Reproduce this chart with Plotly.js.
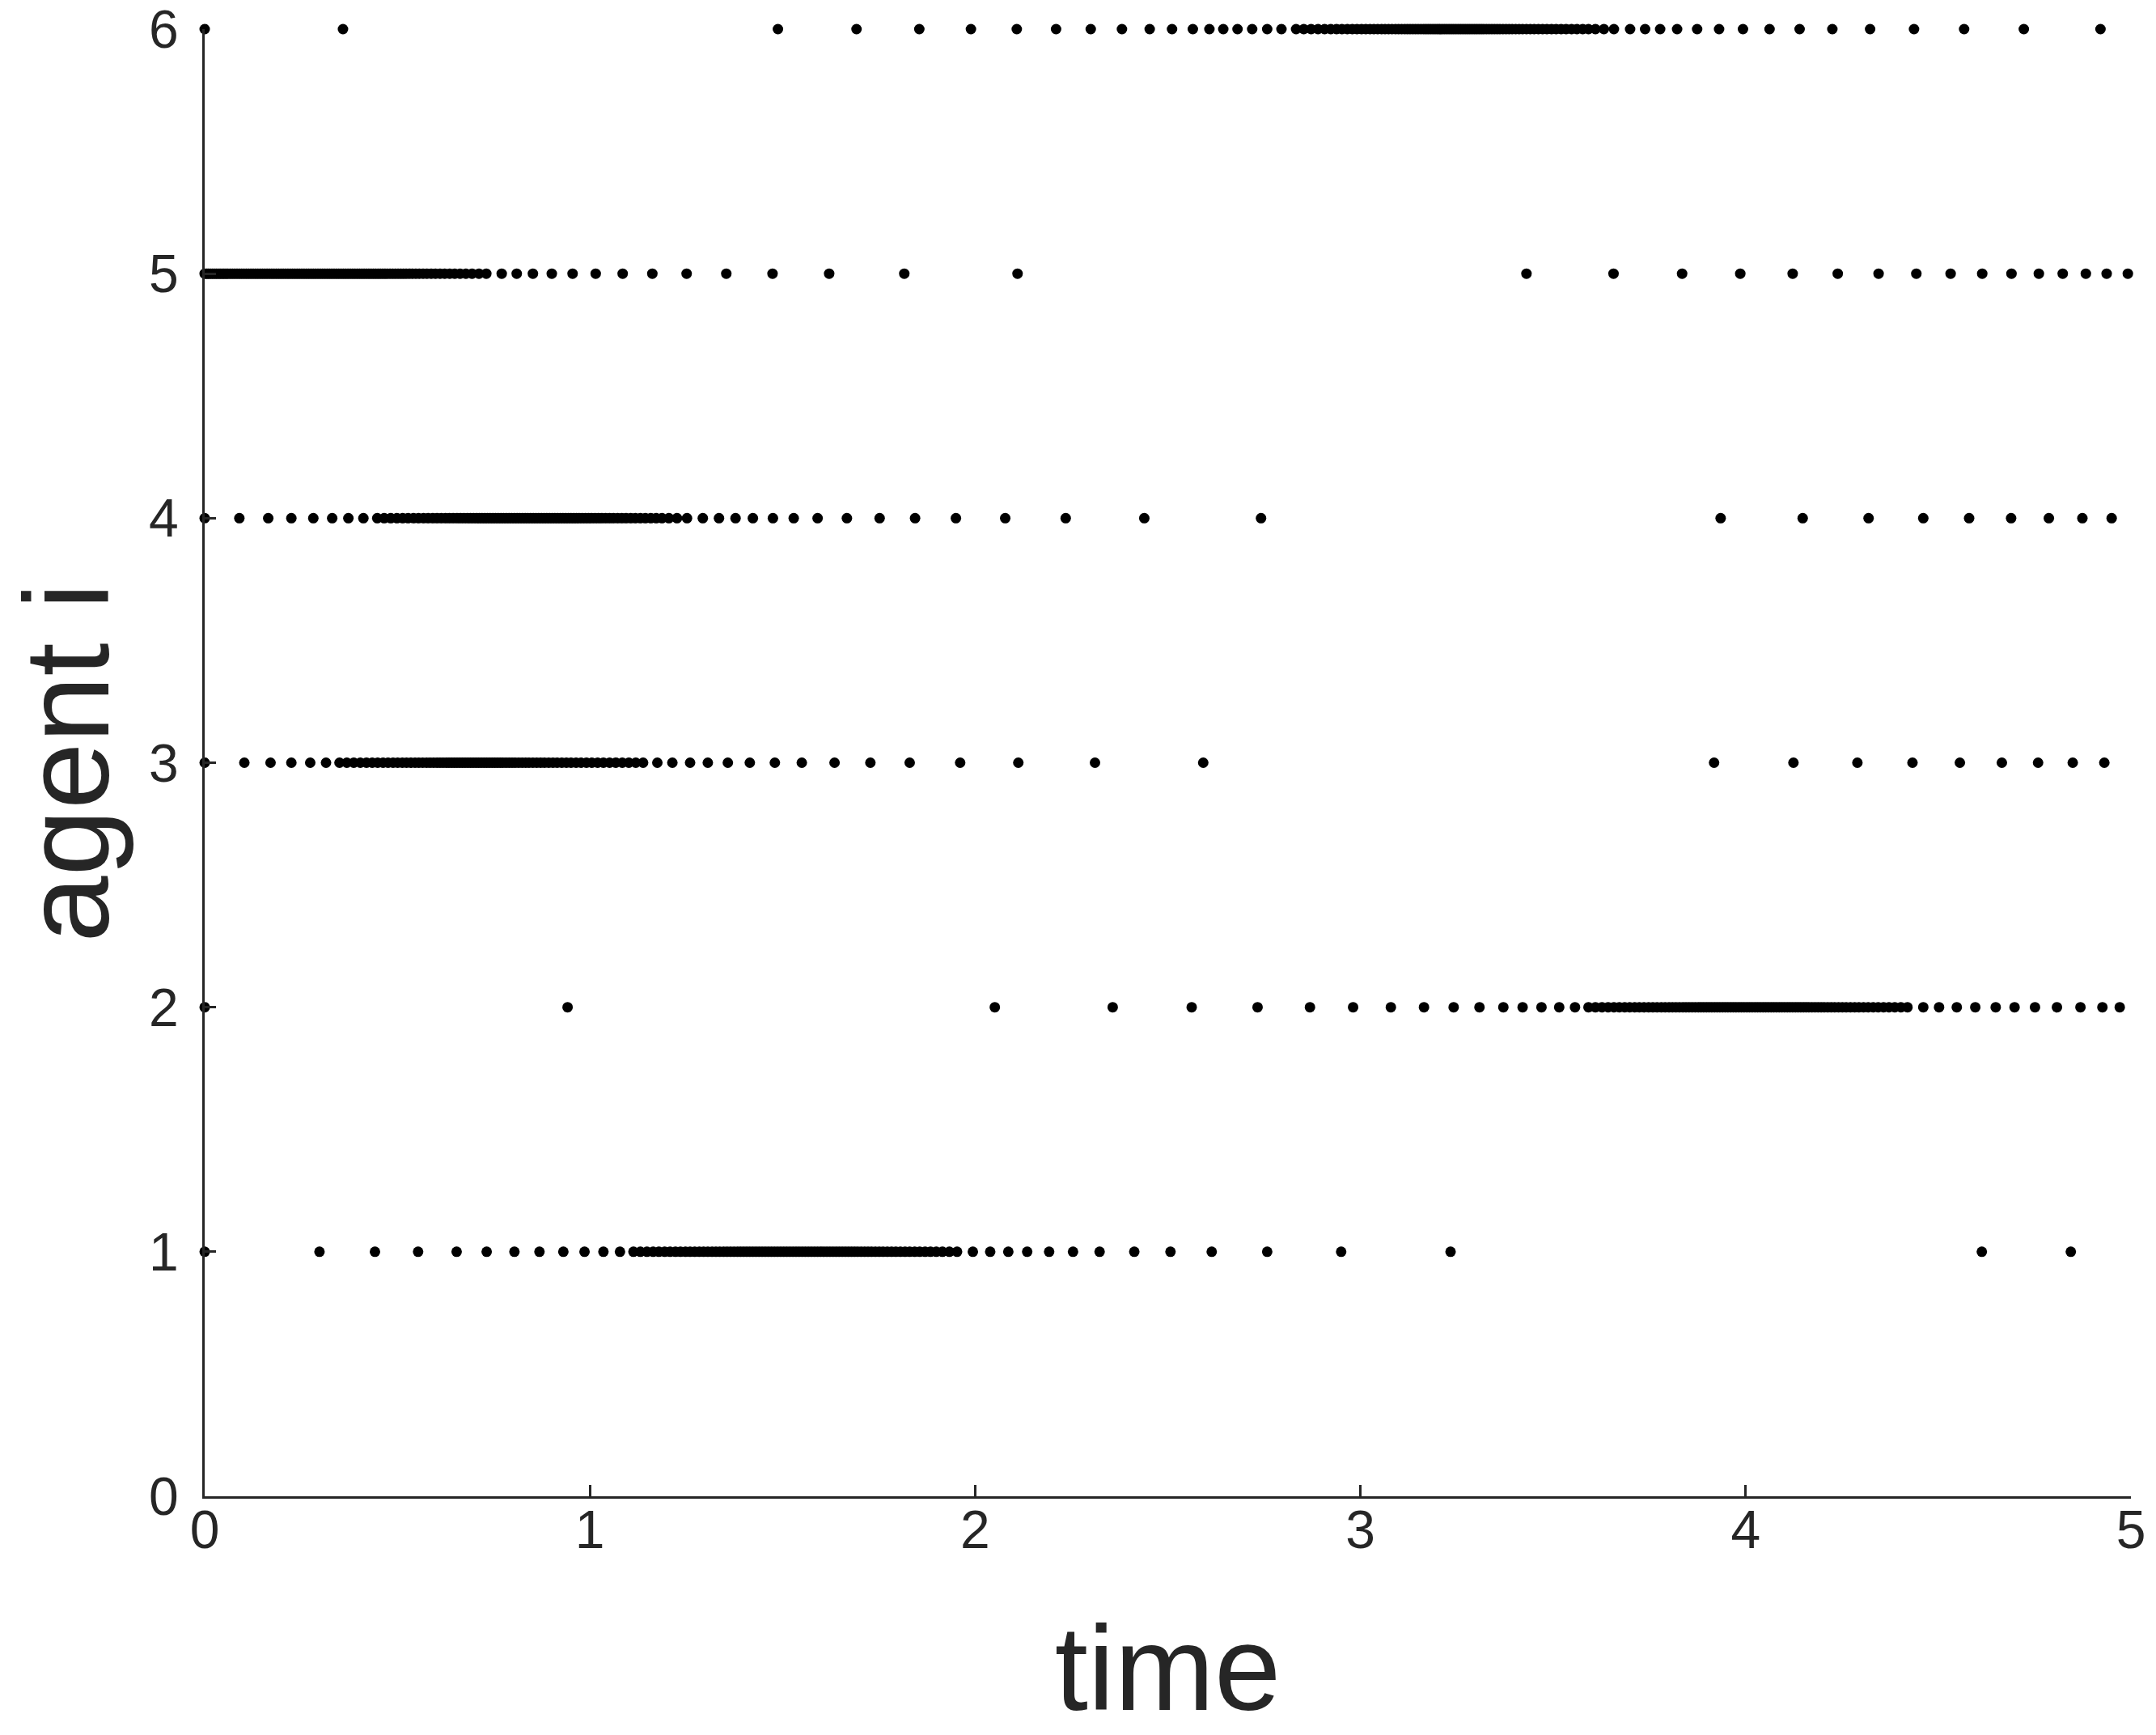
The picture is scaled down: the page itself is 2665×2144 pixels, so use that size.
<!DOCTYPE html>
<html>
<head>
<meta charset="utf-8">
<script src="https://cdn.plot.ly/plotly-3.0.1.min.js"></script>
<style>
html,body{margin:0;padding:0;background:#fff;}
#chart{width:2665px;height:2144px;}
</style>
</head>
<body>
<div id="chart"></div>
<script>
// Event times for each agent
var agent1Times = [0, 0.298, 0.442, 0.554, 0.654, 0.732, 0.804, 0.869, 0.931, 0.986, 1.035, 1.078, 1.113,
  1.131, 1.148, 1.164, 1.179, 1.194, 1.208, 1.222, 1.235, 1.248, 1.260, 1.272, 1.284, 1.295, 1.306, 1.317, 1.327,
  1.337, 1.347, 1.356, 1.365, 1.374, 1.383, 1.391, 1.399, 1.407, 1.415, 1.423, 1.431, 1.439, 1.447, 1.455, 1.463,
  1.471, 1.479, 1.487, 1.495, 1.503, 1.511, 1.519, 1.527, 1.535, 1.543, 1.551, 1.559, 1.567, 1.575, 1.583, 1.591,
  1.599, 1.607, 1.615, 1.623, 1.631, 1.639, 1.647, 1.655, 1.663, 1.671, 1.679, 1.687, 1.695, 1.704, 1.713, 1.722,
  1.731, 1.741, 1.751, 1.761, 1.772, 1.783, 1.794, 1.806, 1.818, 1.830, 1.843, 1.856, 1.870, 1.884, 1.899, 1.915,
  1.933, 1.953, 1.994, 2.039, 2.086, 2.135, 2.192, 2.254, 2.323, 2.413, 2.507, 2.614, 2.758, 2.950, 3.234,
  4.613, 4.844];

var agent2Times = [0, 0.942, 2.051, 2.357, 2.562, 2.733, 2.869, 2.981, 3.079, 3.165, 3.242, 3.309, 3.371, 3.421,
  3.470, 3.516, 3.557, 3.592, 3.610, 3.627, 3.643, 3.658, 3.672, 3.686, 3.699, 3.712, 3.724, 3.736, 3.748, 3.759,
  3.770, 3.781, 3.791, 3.801, 3.810, 3.819, 3.828, 3.837, 3.845, 3.853, 3.861, 3.869, 3.877, 3.884, 3.891, 3.898,
  3.905, 3.912, 3.919, 3.926, 3.933, 3.940, 3.947, 3.954, 3.961, 3.968, 3.975, 3.982, 3.989, 3.996, 4.003, 4.010,
  4.017, 4.024, 4.031, 4.038, 4.045, 4.052, 4.059, 4.066, 4.073, 4.080, 4.087, 4.094, 4.101, 4.108, 4.115, 4.122,
  4.129, 4.136, 4.143, 4.150, 4.157, 4.164, 4.172, 4.180, 4.188, 4.196, 4.204, 4.213, 4.222, 4.231, 4.241, 4.251,
  4.261, 4.272, 4.283, 4.294, 4.306, 4.318, 4.331, 4.344, 4.358, 4.372, 4.387, 4.403, 4.420, 4.461, 4.502, 4.548,
  4.596, 4.649, 4.698, 4.751, 4.808, 4.869, 4.926, 4.971];

var agent3Times = [0, 0.103, 0.171, 0.225, 0.274, 0.315, 0.350, 0.369, 0.387, 0.404, 0.420, 0.435, 0.449, 0.463,
  0.476, 0.489, 0.501, 0.513, 0.524, 0.535, 0.546, 0.556, 0.566, 0.576, 0.585, 0.594, 0.603, 0.611, 0.619, 0.627,
  0.634, 0.641, 0.648, 0.655, 0.662, 0.669, 0.676, 0.683, 0.690, 0.697, 0.704, 0.711, 0.718, 0.725, 0.732, 0.739,
  0.746, 0.753, 0.760, 0.767, 0.774, 0.782, 0.790, 0.798, 0.806, 0.815, 0.824, 0.833, 0.842, 0.852, 0.862, 0.872,
  0.882, 0.893, 0.904, 0.915, 0.927, 0.939, 0.951, 0.964, 0.977, 0.991, 1.005, 1.020, 1.035, 1.051, 1.067, 1.084,
  1.101, 1.119, 1.138, 1.175, 1.214, 1.260, 1.306, 1.358, 1.415, 1.480, 1.550, 1.635, 1.728, 1.830, 1.961, 2.112,
  2.311, 2.592, 3.918, 4.124, 4.290, 4.433, 4.556, 4.665, 4.759, 4.849, 4.931];

var agent4Times = [0, 0.090, 0.165, 0.225, 0.282, 0.331, 0.373, 0.412, 0.448, 0.466, 0.483, 0.499, 0.514, 0.528,
  0.542, 0.555, 0.568, 0.580, 0.592, 0.603, 0.614, 0.625, 0.635, 0.645, 0.655, 0.664, 0.673, 0.682, 0.690, 0.698,
  0.706, 0.713, 0.720, 0.727, 0.734, 0.741, 0.748, 0.755, 0.762, 0.769, 0.776, 0.783, 0.790, 0.797, 0.804, 0.811,
  0.818, 0.825, 0.832, 0.839, 0.846, 0.853, 0.860, 0.867, 0.874, 0.881, 0.888, 0.895, 0.902, 0.909, 0.916, 0.923,
  0.930, 0.937, 0.944, 0.951, 0.958, 0.965, 0.972, 0.980, 0.988, 0.996, 1.004, 1.013, 1.022, 1.031, 1.041, 1.051,
  1.061, 1.072, 1.083, 1.094, 1.106, 1.118, 1.131, 1.144, 1.158, 1.172, 1.187, 1.205, 1.226, 1.252, 1.293, 1.335,
  1.378, 1.423, 1.475, 1.529, 1.591, 1.667, 1.752, 1.844, 1.950, 2.078, 2.235, 2.439, 2.742, 3.935, 4.148, 4.319,
  4.461, 4.580, 4.689, 4.787, 4.874, 4.950];

var agent5Times = [0, 0.005, 0.010, 0.015, 0.020, 0.025, 0.030, 0.035, 0.040, 0.045, 0.050, 0.055, 0.060, 0.066,
  0.072, 0.078, 0.084, 0.090, 0.096, 0.102, 0.108, 0.114, 0.120, 0.126, 0.132, 0.138, 0.144, 0.150, 0.156, 0.162,
  0.168, 0.174, 0.180, 0.186, 0.192, 0.198, 0.204, 0.210, 0.216, 0.222, 0.228, 0.234, 0.240, 0.246, 0.252, 0.258,
  0.264, 0.270, 0.276, 0.282, 0.288, 0.294, 0.300, 0.306, 0.312, 0.318, 0.324, 0.330, 0.336, 0.342, 0.348, 0.354,
  0.360, 0.366, 0.372, 0.378, 0.384, 0.390, 0.396, 0.402, 0.408, 0.414, 0.420, 0.426, 0.432, 0.438, 0.444, 0.450,
  0.456, 0.462, 0.468, 0.474, 0.481, 0.488, 0.495, 0.502, 0.509, 0.516, 0.523, 0.531, 0.539, 0.548, 0.557, 0.567,
  0.577, 0.588, 0.599, 0.611, 0.623, 0.636, 0.649, 0.663, 0.678, 0.694, 0.712, 0.731, 0.771, 0.810, 0.852, 0.901,
  0.955, 1.015, 1.085, 1.162, 1.251, 1.354, 1.474, 1.621, 1.816, 2.110, 3.431, 3.657, 3.835, 3.986, 4.122, 4.239,
  4.345, 4.443, 4.532, 4.614, 4.690, 4.761, 4.823, 4.883, 4.937, 4.992];

var agent6Times = [0, 0.359, 1.488, 1.692, 1.855, 1.989, 2.108, 2.210, 2.300, 2.381, 2.453, 2.511, 2.565, 2.608,
  2.644, 2.681, 2.719, 2.758, 2.795, 2.833, 2.853, 2.872, 2.890, 2.907, 2.923, 2.938, 2.952, 2.966, 2.979, 2.991,
  3.003, 3.014, 3.025, 3.035, 3.045, 3.055, 3.064, 3.073, 3.082, 3.091, 3.099, 3.107, 3.115, 3.122, 3.129, 3.136,
  3.143, 3.150, 3.157, 3.164, 3.170, 3.176, 3.182, 3.188, 3.194, 3.200, 3.206, 3.212, 3.218, 3.224, 3.230, 3.236,
  3.242, 3.248, 3.254, 3.260, 3.266, 3.272, 3.278, 3.284, 3.290, 3.296, 3.302, 3.308, 3.314, 3.320, 3.327, 3.334,
  3.341, 3.348, 3.355, 3.362, 3.370, 3.378, 3.386, 3.394, 3.403, 3.412, 3.421, 3.431, 3.441, 3.451, 3.462, 3.473,
  3.484, 3.496, 3.508, 3.521, 3.534, 3.548, 3.562, 3.577, 3.592, 3.610, 3.632, 3.658, 3.700, 3.739, 3.778, 3.822,
  3.874, 3.931, 3.993, 4.062, 4.140, 4.225, 4.323, 4.437, 4.567, 4.722, 4.921];

var agentIds = [1, 2, 3, 4, 5, 6];
var agentTimes = [agent1Times, agent2Times, agent3Times, agent4Times, agent5Times, agent6Times];

var xTickVals = [0, 1, 2, 3, 4, 5];
var yTickVals = [0, 1, 2, 3, 4, 5, 6];
var xTitle = 'time';
var yTitle = 'agent i';

var ink = '#262626';
var traces = agentIds.map(function (id, k) {
  return {
    type: 'scatter',
    mode: 'markers',
    x: agentTimes[k],
    y: agentTimes[k].map(function () { return id; }),
    marker: { color: '#000000', size: 13, line: { width: 0 } },
    cliponaxis: false,
    showlegend: false,
    hoverinfo: 'skip'
  };
});

var tickFont = { family: 'Liberation Sans, Arial, sans-serif', size: 66, color: ink };
var titleFont = { family: 'Liberation Sans, Arial, sans-serif', size: 148, color: ink };

var layout = {
  width: 2665,
  height: 2144,
  paper_bgcolor: '#ffffff',
  plot_bgcolor: '#ffffff',
  margin: { l: 253, r: 31, t: 36, b: 295, pad: 0 },
  xaxis: {
    range: [0, 5],
    tickmode: 'array',
    tickvals: xTickVals,
    ticktext: xTickVals.map(String),
    ticks: 'inside',
    ticklen: 14,
    tickwidth: 3,
    tickcolor: ink,
    showline: true,
    linecolor: ink,
    linewidth: 3,
    showgrid: false,
    zeroline: false,
    automargin: false,
    tickfont: tickFont,
    ticklabeloverflow: 'allow',
    ticklabelstandoff: -18,
    title: { text: xTitle, font: titleFont, standoff: 110 }
  },
  yaxis: {
    range: [0, 6],
    tickmode: 'array',
    tickvals: yTickVals,
    ticktext: yTickVals.map(String),
    ticks: 'inside',
    ticklen: 14,
    tickwidth: 3,
    tickcolor: ink,
    showline: true,
    linecolor: ink,
    linewidth: 3,
    showgrid: false,
    zeroline: false,
    automargin: false,
    tickfont: tickFont,
    ticklabeloverflow: 'allow',
    ticklabelstandoff: 16,
    title: { text: yTitle, font: titleFont, standoff: 48 }
  }
};

Plotly.newPlot('chart', traces, layout, { staticPlot: true, displayModeBar: false });
</script>
</body>
</html>
